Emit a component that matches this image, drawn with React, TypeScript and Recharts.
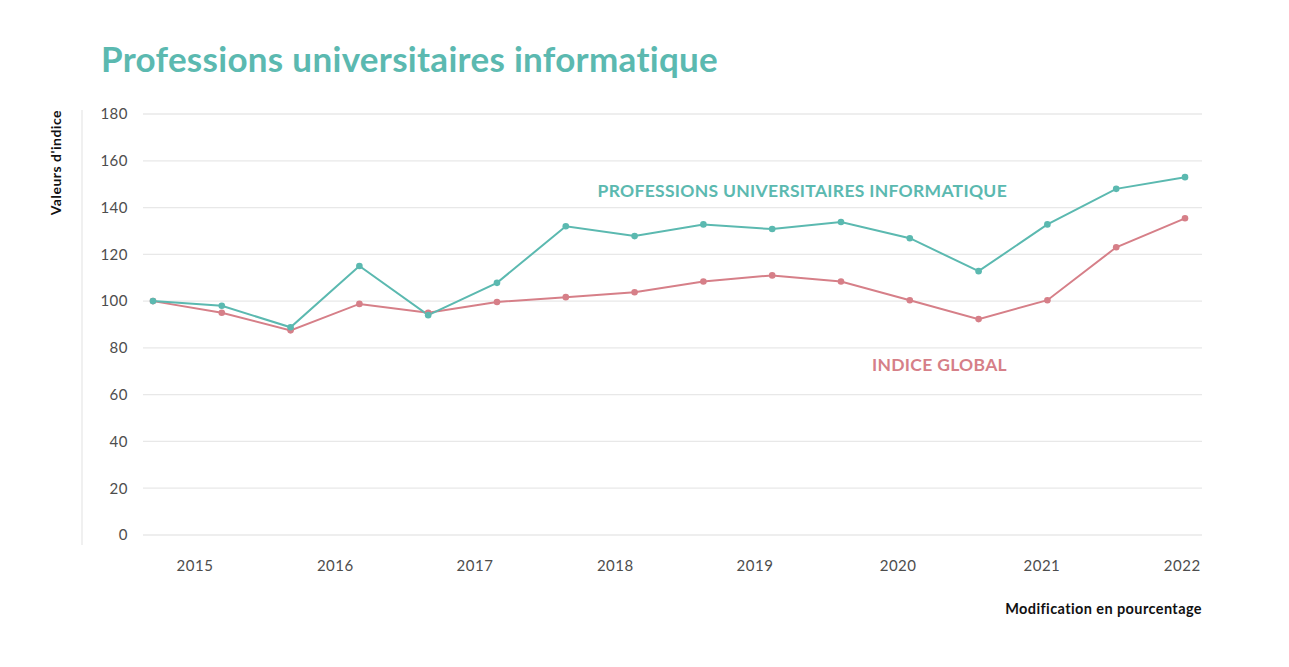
import React from 'react';
import { LineChart, Line, XAxis, YAxis, CartesianGrid } from 'recharts';

const periodIndex = [0, 1, 2, 3, 4, 5, 6, 7, 8, 9, 10, 11, 12, 13, 14, 15];
const informatique = [100, 98, 88.8, 115, 94, 107.8, 132, 127.8, 132.8, 130.8, 133.8, 126.9, 112.8, 132.8, 148, 153];
const indiceGlobal = [100, 95, 87.5, 98.8, 95, 99.6, 101.7, 103.8, 108.4, 111, 108.4, 100.4, 92.3, 100.4, 123, 135.4];
const yearLabels = ['2015', '2016', '2017', '2018', '2019', '2020', '2021', '2022'];
const yearTickValues = [0.61, 2.65, 4.68, 6.72, 8.75, 10.83, 12.92, 14.96];
const yTicks = [0, 20, 40, 60, 80, 100, 120, 140, 160, 180];

const TEAL = '#5bb9b0';
const PINK = '#d67f88';
const FONT = 'Lato, "Open Sans", sans-serif';

const data = periodIndex.map((t, i) => ({ t, informatique: informatique[i], global: indiceGlobal[i] }));

const yearFormatter = (v: number) => {
  const i = yearTickValues.indexOf(v);
  return i >= 0 ? yearLabels[i] : '';
};

export default function App() {
  return (
    <div style={{ position: 'absolute', left: 0, top: 0, width: 1289, height: 667, background: '#fff' }}>
      <LineChart
        width={1289}
        height={667}
        data={data}
        margin={{ top: 114, right: 87, bottom: 102, left: 83 }}
      >
        <CartesianGrid vertical={false} stroke="#e8e8e8" strokeWidth={1.3} />
        <XAxis
          dataKey="t"
          type="number"
          domain={[-0.145, 15.247]}
          allowDataOverflow
          ticks={yearTickValues}
          tickFormatter={yearFormatter}
          axisLine={false}
          tickLine={false}
          tickSize={0}
          tickMargin={25}
          height={30}
          tick={{ fill: '#4d4d4d', fontSize: 15, fontFamily: FONT, letterSpacing: 0.5 }}
        />
        <YAxis
          domain={[0, 180]}
          ticks={yTicks}
          axisLine={false}
          tickLine={false}
          tickSize={0}
          tickMargin={15}
          width={60}
          tick={{ fill: '#4d4d4d', fontSize: 15, fontFamily: FONT, letterSpacing: 0.5 }}
        />
        <Line
          type="linear"
          dataKey="global"
          stroke={PINK}
          strokeWidth={2}
          dot={{ r: 3.3, fill: PINK, stroke: PINK, strokeWidth: 0 }}
          activeDot={false}
          isAnimationActive={false}
        />
        <Line
          type="linear"
          dataKey="informatique"
          stroke={TEAL}
          strokeWidth={2}
          dot={{ r: 3.3, fill: TEAL, stroke: TEAL, strokeWidth: 0 }}
          activeDot={false}
          isAnimationActive={false}
        />
      </LineChart>
      <svg
        width={1289}
        height={667}
        style={{ position: 'absolute', left: 0, top: 0, pointerEvents: 'none' }}
      >
        <text x={101} y={72} fill={TEAL} fontFamily={FONT} fontWeight={700} fontSize={35} letterSpacing={0.3}>
          Professions universitaires informatique
        </text>
        <line x1={82} y1={110} x2={82} y2={545} stroke="#e8e8e8" strokeWidth={1.3} />
        <text
          transform="translate(61,110) rotate(-90)"
          textAnchor="end"
          fill="#111"
          fontFamily={FONT}
          fontWeight={700}
          fontSize={14}
          letterSpacing={0.5}
        >
          Valeurs d'indice
        </text>
        <text x={1007} y={197} textAnchor="end" fill={TEAL} fontFamily={FONT} fontWeight={700} fontSize={17.5} letterSpacing={0.3}>
          PROFESSIONS UNIVERSITAIRES INFORMATIQUE
        </text>
        <text x={1007} y={371} textAnchor="end" fill={PINK} fontFamily={FONT} fontWeight={700} fontSize={17.5} letterSpacing={0.3}>
          INDICE GLOBAL
        </text>
        <text x={1202} y={614} textAnchor="end" fill="#111" fontFamily={FONT} fontWeight={700} fontSize={14.5} letterSpacing={0.4}>
          Modification en pourcentage
        </text>
      </svg>
    </div>
  );
}
